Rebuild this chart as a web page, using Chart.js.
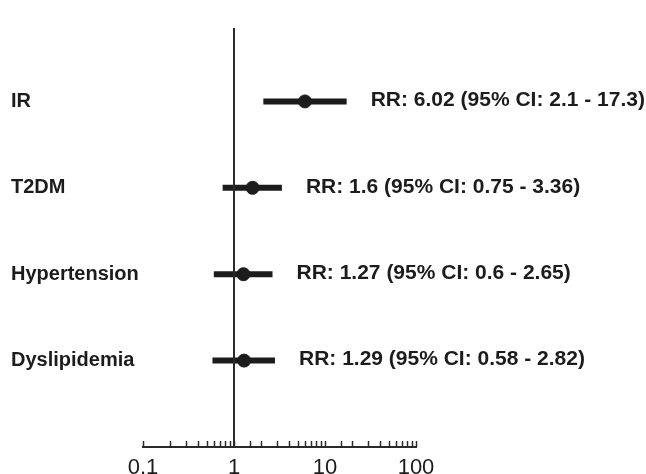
<!DOCTYPE html>
<html>
<head>
<meta charset="utf-8">
<script src="https://cdn.jsdelivr.net/npm/chart.js@4.4.1/dist/chart.umd.min.js"></script>
<style>
  body { margin: 0; background: #fff; }
  canvas { display: block; }
</style>
</head>
<body>
<canvas id="forest" width="646" height="474"></canvas>
<script>
// forest plot values
const factors = ['IR', 'T2DM', 'Hypertension', 'Dyslipidemia']
const rr = [6.02, 1.6, 1.27, 1.29]
const ciLow = [2.1, 0.75, 0.6, 0.58]
const ciHigh = [17.3, 3.36, 2.65, 2.82]
const axisLabels = [0.1, 1, 10, 100]

const ink = '#1c1c1c'
const fontFam = '"Liberation Sans", Arial, sans-serif'

// error bars, one line dataset per factor
const barSets = factors.map((f, i) => ({
    type: 'line',
    data: [{x: ciLow[i], y: i}, {x: ciHigh[i], y: i}],
    borderColor: ink,
    borderWidth: 6,
    borderCapStyle: 'butt',
    pointRadius: 0,
    order: 2
}))

const pointSet = {
    type: 'scatter',
    data: rr.map((v, i) => ({x: v, y: i})),
    backgroundColor: ink,
    borderColor: ink,
    pointRadius: 6.5,
    order: 1
}

// vertical line at RR = 1, small ticks pointing up, row names and RR text
const forestExtras = {
    id: 'forestExtras',
    afterDatasetsDraw(chart) {
        const {ctx, chartArea, scales: {x, y}} = chart
        ctx.save()

        ctx.strokeStyle = '#2a2a2a'
        ctx.lineWidth = 2
        const x1 = Math.round(x.getPixelForValue(1))
        ctx.beginPath()
        ctx.moveTo(x1, chartArea.top)
        ctx.lineTo(x1, chartArea.bottom)
        ctx.stroke()

        ctx.lineWidth = 1.5
        x.ticks.forEach(t => {
            const px = Math.round(x.getPixelForValue(t.value)) + 0.5
            ctx.beginPath()
            ctx.moveTo(px, chartArea.bottom)
            ctx.lineTo(px, chartArea.bottom - 6)
            ctx.stroke()
        })

        ctx.fillStyle = ink
        ctx.textAlign = 'left'
        ctx.textBaseline = 'middle'
        factors.forEach((f, i) => {
            const py = y.getPixelForValue(i)
            ctx.font = 'bold 20px ' + fontFam
            ctx.fillText(f, 11, py)
            ctx.font = 'bold 21px ' + fontFam
            const txt = 'RR: ' + rr[i] + ' (95% CI: ' + ciLow[i] + ' - ' + ciHigh[i] + ')'
            ctx.fillText(txt, x.getPixelForValue(ciHigh[i]) + 24, py - 1)
        })
        ctx.restore()
    }
}

new Chart(document.getElementById('forest').getContext('2d'), {
    data: {
        datasets: [...barSets, pointSet]
    },
    options: {
        responsive: false,
        animation: false,
        layout: {padding: {left: 12, right: 230, top: 28, bottom: 0}},
        plugins: {legend: {display: false}, tooltip: {enabled: false}},
        scales: {
            x: {
                type: 'logarithmic',
                min: 0.1,
                max: 100,
                grid: {display: false},
                border: {display: true, color: '#2a2a2a', width: 2},
                afterFit: (scale) => { scale.height = 27 },
                ticks: {
                    autoSkip: false,
                    maxRotation: 0,
                    padding: 0,
                    color: ink,
                    font: {family: fontFam, size: 22},
                    callback: (v) => axisLabels.some(a => Math.abs(a - v) < 1e-9) ? String(v) : ''
                }
            },
            y: {
                type: 'linear',
                reverse: true,
                min: -0.85,
                max: 4.0,
                grid: {display: false},
                border: {display: false},
                afterFit: (scale) => { scale.width = 131 },
                ticks: {display: false}
            }
        }
    },
    plugins: [forestExtras]
})
</script>
</body>
</html>
